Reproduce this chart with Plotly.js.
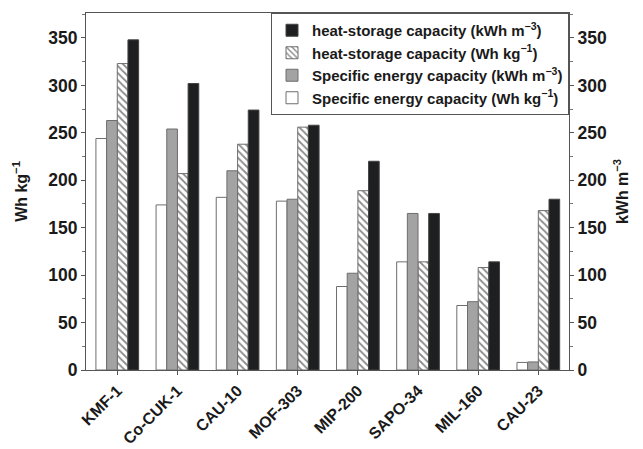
<!DOCTYPE html>
<html>
<head>
<meta charset="utf-8">
<script src="https://cdn.plot.ly/plotly-3.0.1.min.js"></script>
<style>html,body{margin:0;padding:0;background:#fff;}#chart{width:643px;height:449px;}</style>
</head>
<body>
<div id="chart"></div>
<script>
// Categories (x axis)
var materials = ['KMF-1', 'Co-CUK-1', 'CAU-10', 'MOF-303', 'MIP-200', 'SAPO-34', 'MIL-160', 'CAU-23'];
// Series values
var specificEnergyWhKg = [244, 174, 182, 178, 88, 114, 68, 8];
var specificEnergyKWhM3 = [263, 254, 210, 180, 102, 165, 72, 8.5];
var heatStorageWhKg = [323, 207, 238, 256, 189, 114, 108, 168];
var heatStorageKWhM3 = [348, 302, 274, 258, 220, 165, 114, 180];
// Tick values
var yTicks = [0, 50, 100, 150, 200, 250, 300, 350];

var FONT = 'Liberation Sans, Arial, Helvetica, sans-serif';
var edge = {color: '#6e6e6e', width: 1};

var traces = [
  {type: 'bar', name: '<b>Specific energy capacity (Wh kg<sup>−1</sup>)</b>', x: materials, y: specificEnergyWhKg,
   yaxis: 'y', alignmentgroup: 'all', offsetgroup: 'g1',
   marker: {color: '#ffffff', line: edge}},
  {type: 'bar', name: '<b>Specific energy capacity (kWh m<sup>−3</sup>)</b>', x: materials, y: specificEnergyKWhM3,
   yaxis: 'y2', alignmentgroup: 'all', offsetgroup: 'g2',
   marker: {color: '#a3a3a3', line: edge}},
  {type: 'bar', name: '<b>heat-storage capacity (Wh kg<sup>−1</sup>)</b>', x: materials, y: heatStorageWhKg,
   yaxis: 'y', alignmentgroup: 'all', offsetgroup: 'g3',
   marker: {color: '#ffffff', line: edge, pattern: {shape: '\\', fgcolor: '#8a8a8a', bgcolor: '#ffffff', size: 5, solidity: 0.35}}},
  {type: 'bar', name: '<b>heat-storage capacity (kWh m<sup>−3</sup>)</b>', x: materials, y: heatStorageKWhM3,
   yaxis: 'y2', alignmentgroup: 'all', offsetgroup: 'g4',
   marker: {color: '#1e1f21', line: {color: '#444', width: 1}}}
];

var axisCommon = {
  range: [0, 376.3], tickvals: yTicks, ticktext: yTicks.map(String),
  ticks: 'outside', ticklen: 4, tickwidth: 1, tickcolor: '#555',
  showline: true, linecolor: '#555', linewidth: 1, showgrid: false, zeroline: false,
  tickfont: {family: FONT, size: 17.5, color: '#1a1a1a', weight: 'bold'},
  minor: {dtick: 25, tick0: 0, ticks: 'outside', ticklen: 3, tickcolor: '#777', showgrid: false}
};

var layout = {
  width: 643, height: 449,
  margin: {l: 86, r: 74, t: 13, b: 79, pad: 0},
  paper_bgcolor: '#ffffff', plot_bgcolor: '#ffffff',
  barmode: 'group', bargap: 0.29, bargroupgap: 0,
  showlegend: true,
  legend: {
    x: 1, xanchor: 'right', y: 1, yanchor: 'top',
    traceorder: 'reversed', bgcolor: '#ffffff', bordercolor: '#555', borderwidth: 1,
    font: {family: FONT, size: 15, color: '#1a1a1a'},
    itemwidth: 30, tracegroupgap: 0
  },
  xaxis: {
    range: [-0.52, 7.51], type: 'category',
    ticks: 'outside', ticklen: 4, tickcolor: '#555',
    showline: true, linecolor: '#555', linewidth: 1, mirror: true,
    showgrid: false, zeroline: false, tickangle: -45,
    tickfont: {family: FONT, size: 16, color: '#1a1a1a', weight: 'bold'}
  },
  yaxis: Object.assign({}, axisCommon, {
    title: {text: '<b>Wh kg<sup>−1</sup></b>', font: {family: FONT, size: 16, color: '#1a1a1a'}, standoff: 16}
  }),
  yaxis2: Object.assign({}, axisCommon, {
    overlaying: 'y', side: 'right', anchor: 'x',
    title: {text: '<b>kWh m<sup>−3</sup></b>', font: {family: FONT, size: 16, color: '#1a1a1a'}, standoff: 10}
  })
};

Plotly.newPlot('chart', traces, layout, {displayModeBar: false, staticPlot: true});
</script>
</body>
</html>
